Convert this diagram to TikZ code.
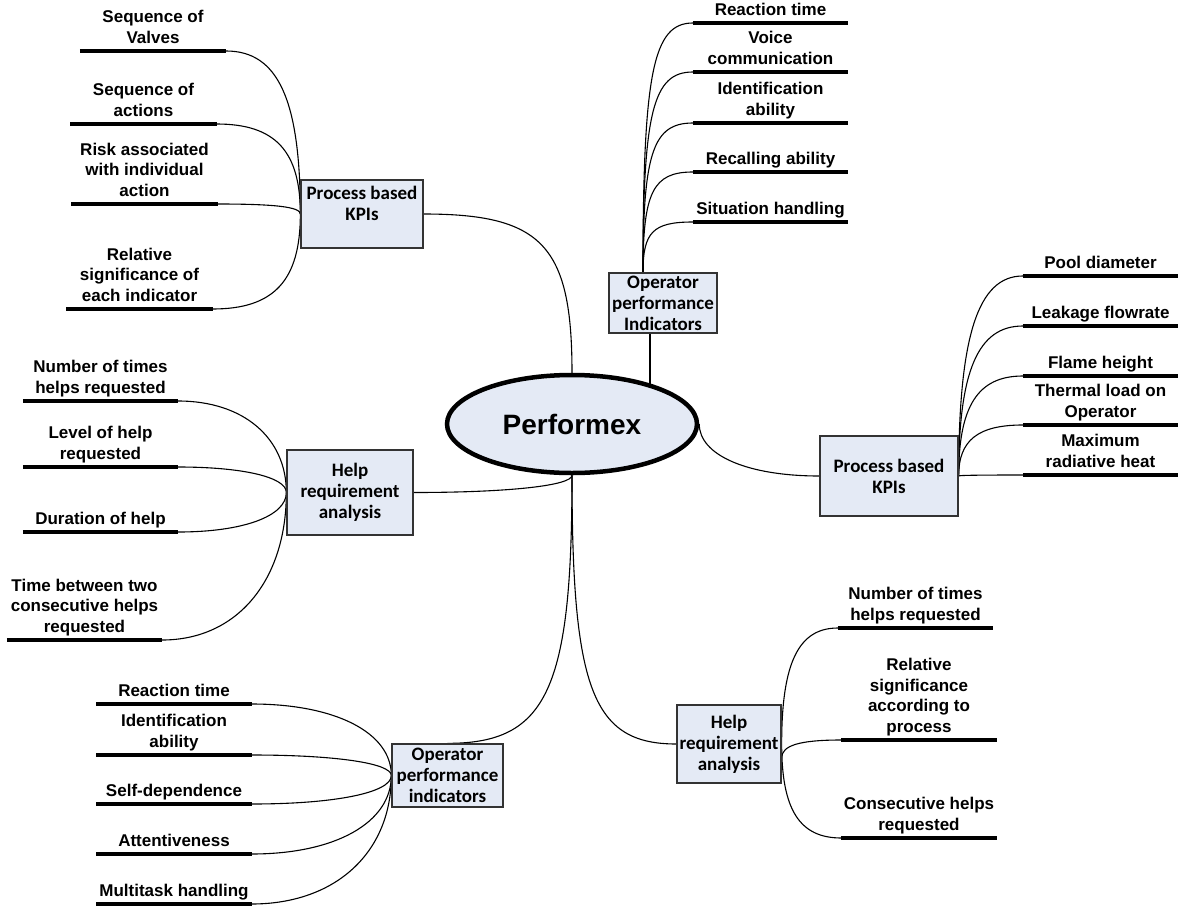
\documentclass[tikz,border=0pt]{standalone}
\usepackage{fontspec}
\setmainfont{Liberation Sans}
\newfontfamily\boxfont{Carlito}
\usepackage{tikz}
\usetikzlibrary{shapes.geometric, calc, backgrounds}
\definecolor{topicfill}{HTML}{E4EAF5}
\definecolor{topicdraw}{HTML}{333333}

\begin{document}
\begin{tikzpicture}[
  x=1pt, y=-1pt,
  hub/.style={ellipse, draw=black, line width=4.5pt, fill=topicfill, minimum width=250pt, minimum height=98pt, inner sep=0pt, font=\fontsize{28}{32}\selectfont\bfseries},
  topic/.style={rectangle, draw=topicdraw, line width=1.3pt, fill=topicfill, align=center, inner sep=0pt, font=\boxfont\fontsize{19}{21}\selectfont\bfseries},
  leaf/.style={anchor=south, align=center, inner xsep=0pt, inner ysep=7.5pt, text depth=0pt, minimum width=155pt, font=\fontsize{17}{20.5}\selectfont\bfseries},
  bar/.style={line width=4.5pt},
  link/.style={line width=1.1pt},
  hv/.style={to path={.. controls ($(\tikztostart)!#1!(\tikztostart-|\tikztotarget)$) and ($(\tikztotarget)!#1!(\tikztostart-|\tikztotarget)$) .. (\tikztotarget)}},
  hv/.default=0.7,
  vh/.style={to path={.. controls ($(\tikztostart)!#1!(\tikztostart|-\tikztotarget)$) and ($(\tikztotarget)!#1!(\tikztostart|-\tikztotarget)$) .. (\tikztotarget)}},
  vh/.default=0.7
]
  \useasboundingbox (0,0) rectangle (1179,908);

  % Central hub
  \node[hub] (core) at (572,424) {Performex};

  % Topic boxes round the hub
  \node[topic, minimum width=122pt, minimum height=68pt] (kpi-left) at (362,214) {Process based\\KPIs\\\mbox{}};
  \node[topic, minimum width=108pt, minimum height=60pt] (op-top) at (663,303) {Operator\\performance\\Indicators};
  \node[topic, minimum width=138pt, minimum height=80pt] (kpi-right) at (889,476) {Process based\\KPIs};
  \node[topic, minimum width=126pt, minimum height=85pt] (help-left) at (350,492.5) {Help\\requirement\\analysis};
  \node[topic, minimum width=111pt, minimum height=63pt] (op-bottom) at (447.5,775.5) {Operator\\performance\\indicators};
  \node[topic, minimum width=104pt, minimum height=78pt] (help-right) at (729,744) {Help\\requirement\\analysis};

  % Process based KPIs (left)
  \node[leaf, minimum width=146pt] (kl-valves) at (153,51) {Sequence of\\Valves};
  \node[leaf, minimum width=146pt] (kl-actions) at (143.5,124) {Sequence of\\actions};
  \node[leaf, minimum width=146pt] (kl-risk) at (144.5,204) {Risk associated\\with individual\\action};
  \node[leaf, minimum width=146pt] (kl-signif) at (139.5,309) {Relative\\significance of\\each indicator};

  % Operator performance Indicators (top)
  \node[leaf] (ot-react) at (770.5,23) {Reaction time};
  \node[leaf] (ot-voice) at (770.5,72) {Voice\\communication};
  \node[leaf] (ot-ident) at (770.5,123) {Identification\\ability};
  \node[leaf] (ot-recall) at (770.5,172) {Recalling ability};
  \node[leaf] (ot-situ) at (770.5,222) {Situation handling};

  % Process based KPIs (right)
  \node[leaf] (kr-pool) at (1100.5,276) {Pool diameter};
  \node[leaf] (kr-leak) at (1100.5,326) {Leakage flowrate};
  \node[leaf] (kr-flame) at (1100.5,376) {Flame height};
  \node[leaf] (kr-thermal) at (1100.5,425) {Thermal load on\\Operator};
  \node[leaf] (kr-heat) at (1100.5,475) {Maximum\\radiative heat};

  % Help requirement analysis (left)
  \node[leaf] (hl-times) at (100.5,401) {Number of times\\helps requested};
  \node[leaf] (hl-level) at (100.5,467) {Level of help\\requested};
  \node[leaf] (hl-duration) at (100.5,532) {Duration of help};
  \node[leaf] (hl-between) at (84.5,640) {Time between two\\consecutive helps\\requested};

  % Operator performance indicators (bottom)
  \node[leaf] (ob-react) at (174,704) {Reaction time};
  \node[leaf] (ob-ident) at (174,755) {Identification\\ability};
  \node[leaf] (ob-self) at (174,804) {Self-dependence};
  \node[leaf] (ob-attent) at (174,854) {Attentiveness};
  \node[leaf] (ob-multi) at (174,904) {Multitask handling};

  % Help requirement analysis (right)
  \node[leaf] (hr-times) at (915.5,628) {Number of times\\helps requested};
  \node[leaf] (hr-signif) at (919,740) {Relative\\significance\\according to\\process};
  \node[leaf] (hr-consec) at (919,838) {Consecutive helps\\requested};

  % Underline bars
  \foreach \n in {kl-valves, kl-actions, kl-risk, kl-signif, ot-react, ot-voice, ot-ident, ot-recall, ot-situ, kr-pool, kr-leak, kr-flame, kr-thermal, kr-heat, hl-times, hl-level, hl-duration, hl-between, ob-react, ob-ident, ob-self, ob-attent, ob-multi, hr-times, hr-signif, hr-consec}
    \draw[bar] (\n.south west) -- (\n.south east);

  % Connectors, kept behind the boxes
  \begin{scope}[on background layer]
    \coordinate (op-stem) at ([xshift=-13pt]op-top.south);
    \coordinate (op-root) at ([xshift=-20pt]op-top.north);
    \coordinate (hr-hook) at ([yshift=-14pt]help-right.east);

    % hub to topics
    \draw[link] (kpi-left.east) to[hv=0.8] (core.north);
    \draw[link] (op-stem) -- (op-stem |- core.center);
    \draw[link] (core.east) to[vh=0.6] (kpi-right.west);
    \draw[link] (core.south) to[vh=0.6] (help-left.east);
    \draw[link] (core.south) to[vh=0.8] (op-bottom.north);
    \draw[link] (core.south) to[vh=0.8] (help-right.west);

    % topics to leaves
    \foreach \n in {kl-valves, kl-actions, kl-risk, kl-signif}
      \draw[link] (\n.south east) to[hv] (kpi-left.west);
    \foreach \n in {ot-react, ot-voice, ot-ident, ot-recall, ot-situ}
      \draw[link] (op-root) to[vh=0.8] (\n.south west);
    \foreach \n in {kr-pool, kr-leak, kr-flame, kr-thermal, kr-heat}
      \draw[link] (kpi-right.east) to[vh] (\n.south west);
    \foreach \n in {hl-times, hl-level, hl-duration, hl-between}
      \draw[link] (\n.south east) to[hv=0.6] (help-left.west);
    \foreach \n in {ob-react, ob-ident, ob-self, ob-attent, ob-multi}
      \draw[link] (\n.south east) to[hv=0.6] (op-bottom.west);
    \draw[link] (help-right.east) to[vh] (hr-times.south west);
    \draw[link] (hr-hook) to[vh] (hr-signif.south west);
    \draw[link] (help-right.east) to[vh] (hr-consec.south west);
  \end{scope}
\end{tikzpicture}
\end{document}
